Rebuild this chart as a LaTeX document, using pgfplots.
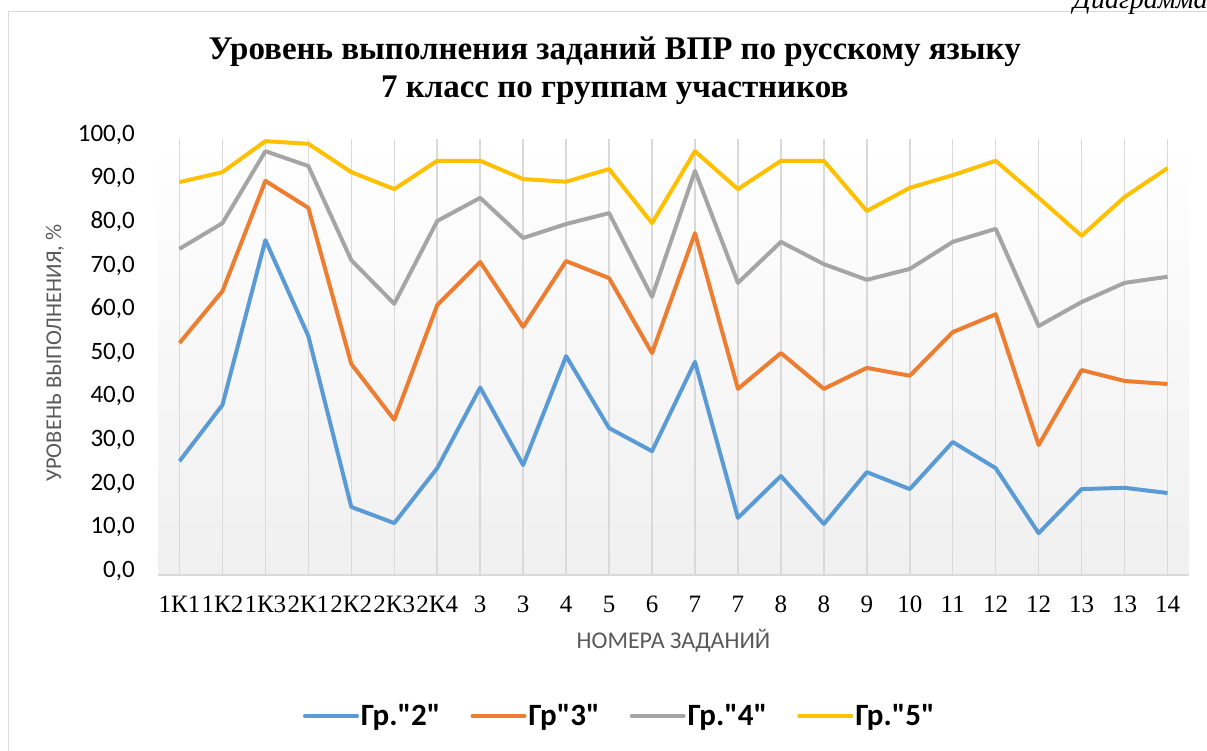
\documentclass[border=0pt]{standalone}
\usepackage{pgfplots}
\pgfplotsset{compat=1.18}
\usepackage{pgfplotstable}
\usepackage{fontspec}
\setmainfont{Liberation Serif}
\newfontfamily\calibri{Carlito}
\definecolor{cBlue}{HTML}{5B9BD5}
\definecolor{cOrange}{HTML}{ED7D31}
\definecolor{cGray}{HTML}{A5A5A5}
\definecolor{cYellow}{HTML}{FFC000}
\definecolor{cGrid}{HTML}{D9D9D9}
\definecolor{cLabel}{HTML}{595959}
\pgfplotstableread{
x g2 g3 g4 g5
0 26.1 53.2 74.8 90.1
1 39.0 65.1 80.7 92.4
2 76.8 90.4 97.2 99.5
3 54.8 84.2 93.8 98.9
4 15.6 48.4 72.2 92.4
5 11.9 35.6 62.2 88.5
6 24.5 61.9 81.2 95.0
7 43.0 71.8 86.5 95.0
8 25.2 56.9 77.3 90.8
9 50.2 72.0 80.5 90.2
10 33.7 68.1 83.0 93.1
11 28.4 50.9 63.8 80.7
12 48.9 78.4 92.7 97.2
13 13.1 42.7 67.0 88.5
14 22.7 50.9 76.4 95.0
15 11.7 42.7 71.3 95.0
16 23.6 47.5 67.7 83.5
17 19.7 45.7 70.2 88.8
18 30.5 55.7 76.4 91.7
19 24.5 59.8 79.4 95.0
20 9.6 29.8 57.1 86.5
21 19.7 47.0 62.6 77.8
22 20.0 44.5 67.0 86.7
23 18.8 43.8 68.4 93.3
}\datatable
\begin{document}
\begin{tikzpicture}
\useasboundingbox (0pt,0pt) rectangle (1207pt,751pt);
\draw[color=cGrid, line width=1pt] (8pt,-20pt) rectangle (1240pt,739pt);
\node[anchor=base west, inner sep=0pt, font=\itshape\fontsize{28}{28}\selectfont] at (1073pt,742pt) {Диаграмма};
\begin{axis}[
  at={(158pt,176pt)}, anchor=south west,
  scale only axis, width=1031pt, height=436pt,
  xmin=-0.5, xmax=23.5, ymin=0, ymax=100,
  clip=false,
  axis lines*=left,
  y axis line style={draw=none},
  x axis line style={draw=cGrid, line width=1.5pt},
  major tick length=0pt,
  xtick={0,...,23},
  xticklabels={1К1,1К2,1К3,2К1,2К2,2К3,2К4,3,3,4,5,6,7,7,8,8,9,10,11,12,12,13,13,14},
  xticklabel style={anchor=base, inner sep=0pt, yshift=-38pt, font=\fontsize{25}{25}\selectfont},
  ytick={0,10,...,100},
  yticklabel style={anchor=mid east, inner sep=0pt, xshift=-23pt, font=\calibri\fontsize{25}{25}\selectfont},
  /pgf/number format/.cd, fixed, fixed zerofill, precision=1, use comma, assume math mode=true,
  /pgfplots/.cd,
  xmajorgrids, ymajorgrids=false,
  major x grid style={draw=cGrid, line width=1.5pt},
  axis background/.style={shade, top color=white, bottom color=black!6},
  xlabel={НОМЕРА ЗАДАНИЙ},
  xlabel style={at={(axis description cs:0.5,-0.1514)}, anchor=center, text=cLabel, font=\calibri\fontsize{24}{24}\selectfont},
  ylabel={УРОВЕНЬ ВЫПОЛНЕНИЯ, \%},
  ylabel style={at={(axis description cs:-0.0999,0.509)}, anchor=center, rotate=0, text=cLabel, font=\calibri\fontsize{22.5}{22.5}\selectfont},
  title={Уровень выполнения заданий ВПР по русскому языку\\7 класс по группам участников},
  title style={at={(axis description cs:0.443,1.142)}, anchor=center, align=center, font=\bfseries\fontsize{33}{38}\selectfont},
  legend columns=4,
  legend style={at={(axis description cs:0.448,-0.3234)}, anchor=center, draw=none, fill=none,
    font=\calibri\bfseries\fontsize{31}{31}\selectfont,
    /tikz/every even column/.append style={column sep=28pt}},
  legend image code/.code={\draw[#1, line cap=round] (0pt,0pt) -- (52pt,0pt);},
  every axis plot/.append style={line width=4pt, line join=round, mark=none},
]
\addplot[color=cBlue] table[x=x,y=g2] {\datatable};
\addlegendentry{Гр."2"}
\addplot[color=cOrange] table[x=x,y=g3] {\datatable};
\addlegendentry{Гр"3"}
\addplot[color=cGray] table[x=x,y=g4] {\datatable};
\addlegendentry{Гр."4"}
\addplot[color=cYellow] table[x=x,y=g5] {\datatable};
\addlegendentry{Гр."5"}
\end{axis}
\end{tikzpicture}
\end{document}
